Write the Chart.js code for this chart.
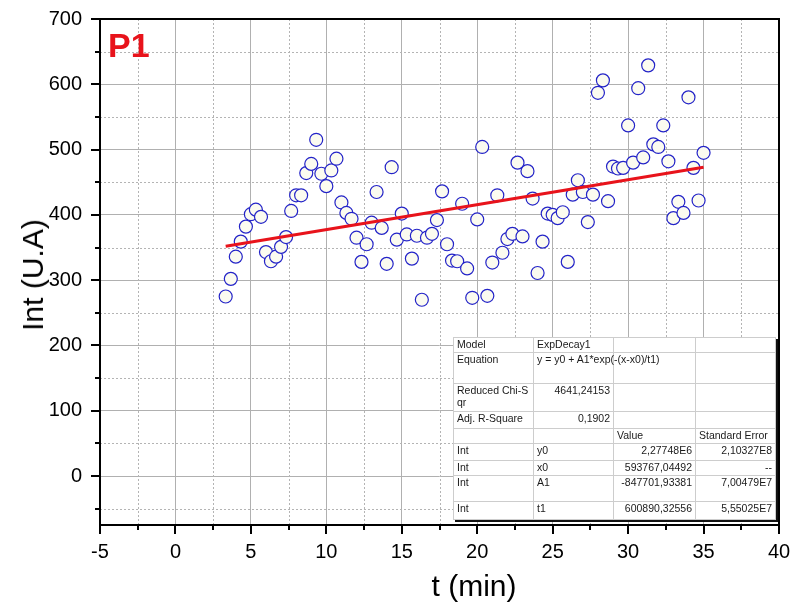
<!DOCTYPE html>
<html>
<head>
<meta charset="utf-8">
<script src="https://cdn.jsdelivr.net/npm/chart.js@4.4.1/dist/chart.umd.min.js"></script>
<style>
  html, body { margin: 0; padding: 0; background: #fff; }
  #wrap { position: relative; width: 791px; height: 610px; font-family: "Liberation Sans", Arial, sans-serif; }
  #plot { position: absolute; left: 0; top: 0; }
  #tag { position: absolute; left: 108px; top: 25px; font-weight: bold; font-size: 34px; color: #e8131b; line-height: 40px; }
  #ytitle { position: absolute; left: 33px; top: 275px; font-size: 30px; color: #000; white-space: nowrap;
            transform: translate(-50%, -50%) rotate(-90deg); }
  #xtitle { position: absolute; left: 474px; top: 586px; font-size: 30px; color: #000; white-space: nowrap;
            transform: translate(-50%, -50%); }
  #fit { position: absolute; left: 453px; top: 337px; width: 322px; table-layout: fixed; border-collapse: collapse;
         background: #fff; font-size: 10.5px; color: #1a1a1a; box-shadow: 2px 2px 0 #111; }
  #fit td { border: 1px solid #cdcdcd; padding: 0 3px; vertical-align: top; line-height: 12px; white-space: nowrap; overflow: visible; }
  #fit td.num { text-align: right; }
</style>
</head>
<body>
<div id="wrap">
  <canvas id="plot" width="791" height="610"></canvas>
  <div id="tag">P1</div>
  <div id="ytitle">Int (U.A)</div>
  <div id="xtitle">t (min)</div>
  <table id="fit">
    <colgroup><col style="width:80px"><col style="width:80px"><col style="width:82px"><col style="width:80px"></colgroup>
    <tbody id="fitBody"></tbody>
  </table>
</div>
<script>
// measured points
const timeMin = [
  3.33, 3.67, 4.00, 4.33, 4.67, 5.00, 5.33, 5.67, 6.00, 6.33, 6.67, 7.00,
  7.33, 7.67, 8.00, 8.33, 8.67, 9.00, 9.33, 9.67, 10.00, 10.33, 10.67, 11.00,
  11.33, 11.67, 12.00, 12.33, 12.67, 13.00, 13.33, 13.67, 14.00, 14.33, 14.67, 15.00,
  15.33, 15.67, 16.00, 16.33, 16.67, 17.00, 17.33, 17.67, 18.00, 18.33, 18.67, 19.00,
  19.33, 19.67, 20.00, 20.33, 20.67, 21.00, 21.33, 21.67, 22.00, 22.33, 22.67, 23.00,
  23.33, 23.67, 24.00, 24.33, 24.67, 25.00, 25.33, 25.67, 26.00, 26.33, 26.67, 27.00,
  27.33, 27.67, 28.00, 28.33, 28.67, 29.00, 29.33, 29.67, 30.00, 30.33, 30.67, 31.00,
  31.33, 31.67, 32.00, 32.33, 32.67, 33.00, 33.33, 33.67, 34.00, 34.33, 34.67, 35.00
];
const intensity = [
  275, 302, 336, 359, 382, 401, 408, 397, 343, 329, 336, 351,
  366, 406, 430, 430, 464, 478, 515, 463, 444, 468, 486, 419,
  403, 394, 365, 328, 355, 388, 435, 380, 325, 473, 362, 402,
  370, 333, 368, 270, 365, 371, 392, 436, 355, 330, 329, 417,
  318, 273, 393, 504, 276, 327, 430, 342, 363, 371, 480, 367,
  467, 425, 311, 359, 402, 400, 395, 404, 328, 431, 453, 435,
  389, 431, 587, 606, 421, 474, 471, 472, 537, 480, 594, 488,
  629, 508, 504, 537, 482, 395, 420, 403, 580, 472, 422, 495
];

// ExpDecay1 fit (practically a straight line over this range)
const fitTime = [3.33, 35.0];
const fitInt = [352, 473];

// fit report table
const fitLabels = ['Model', 'Equation', 'Reduced Chi-S\nqr', 'Adj. R-Square', '', 'Int', 'Int', 'Int', 'Int'];
const fitParams = ['ExpDecay1', 'y = y0 + A1*exp(-(x-x0)/t1)', '4641,24153', '0,1902', '', 'y0', 'x0', 'A1', 't1'];
const fitValues = ['', '', '', '', 'Value', '2,27748E6', '593767,04492', '-847701,93381', '600890,32556'];
const fitErrors = ['', '', '', '', 'Standard Error', '2,10327E8', '--', '7,00479E7', '5,55025E7'];
const fitRowHeights = [15, 31, 28, 17, 15, 17, 15, 26, 18];

const body = document.getElementById('fitBody');
fitLabels.forEach((lab, i) => {
  const tr = document.createElement('tr');
  tr.style.height = fitRowHeights[i] + 'px';
  const cells = [lab, fitParams[i], fitValues[i], fitErrors[i]];
  cells.forEach((txt, j) => {
    const td = document.createElement('td');
    td.style.height = (fitRowHeights[i] - 1) + 'px';
    txt.split('\n').forEach((part, k) => {
      if (k) td.appendChild(document.createElement('br'));
      td.appendChild(document.createTextNode(part));
    });
    const numeric = (i === 2 || i === 3) && j === 1 || (i >= 5 && j >= 2);
    if (numeric) td.className = 'num';
    tr.appendChild(td);
  });
  body.appendChild(tr);
});

// dotted minor grid, ticks and the frame
const framePlugin = {
  id: 'frame',
  beforeDatasetsDraw(chart) {
    const { ctx, chartArea: a, scales: { x, y } } = chart;
    ctx.save();
    ctx.strokeStyle = '#b4b4b4';
    ctx.lineWidth = 1;
    ctx.setLineDash([2, 2]);
    for (let v = -2.5; v < 40; v += 5) {
      const px = Math.round(x.getPixelForValue(v)) + 0.5;
      ctx.beginPath(); ctx.moveTo(px, a.top); ctx.lineTo(px, a.bottom); ctx.stroke();
    }
    for (let v = -50; v < 700; v += 100) {
      const py = Math.round(y.getPixelForValue(v)) + 0.5;
      ctx.beginPath(); ctx.moveTo(a.left, py); ctx.lineTo(a.right, py); ctx.stroke();
    }
    ctx.restore();
  },
  afterDraw(chart) {
    const { ctx, chartArea: a, scales: { x, y } } = chart;
    ctx.save();
    ctx.strokeStyle = '#000';
    ctx.lineWidth = 2;
    for (let v = -5; v <= 40; v += 2.5) {
      const px = Math.round(x.getPixelForValue(v));
      const len = (v % 5 === 0) ? 9 : 5;
      ctx.beginPath(); ctx.moveTo(px, a.bottom); ctx.lineTo(px, a.bottom + len); ctx.stroke();
    }
    for (let v = -50; v <= 700; v += 50) {
      const py = Math.round(y.getPixelForValue(v));
      const len = (v % 100 === 0) ? 9 : 5;
      ctx.beginPath(); ctx.moveTo(a.left, py); ctx.lineTo(a.left - len, py); ctx.stroke();
    }
    ctx.strokeRect(a.left, a.top, a.right - a.left, a.bottom - a.top);
    ctx.restore();
  }
};

const tickFont = { family: '"Liberation Sans", Arial, sans-serif', size: 20 };

new Chart(document.getElementById('plot'), {
  type: 'scatter',
  data: {
    datasets: [
      {
        type: 'line',
        label: 'ExpDecay1 fit',
        data: fitTime.map((t, i) => ({ x: t, y: fitInt[i] })),
        borderColor: '#e8131b',
        borderWidth: 3,
        pointRadius: 0,
        fill: false,
        order: 0
      },
      {
        label: 'Int',
        data: timeMin.map((t, i) => ({ x: t, y: intensity[i] })),
        pointRadius: 6.5,
        pointBorderWidth: 1.2,
        pointBorderColor: '#2323c8',
        pointBackgroundColor: '#fbfbf0',
        order: 1
      }
    ]
  },
  options: {
    responsive: false,
    animation: false,
    layout: { padding: { top: 19, right: 12, left: 0, bottom: 0 } },
    plugins: {
      legend: { display: false },
      tooltip: { enabled: false }
    },
    scales: {
      x: {
        type: 'linear',
        min: -5,
        max: 40,
        ticks: { stepSize: 5, color: '#000', font: tickFont, padding: 15 },
        grid: { color: '#b0b0b0', lineWidth: 1, drawTicks: false },
        border: { display: false },
        afterFit(scale) {
          scale.height = 85;
          scale.paddingLeft = 0;
          scale.paddingRight = 0;
        }
      },
      y: {
        type: 'linear',
        min: -75,
        max: 700,
        ticks: { stepSize: 100, includeBounds: false, color: '#000', font: tickFont, padding: 18 },
        grid: { color: '#b0b0b0', lineWidth: 1, drawTicks: false },
        border: { display: false },
        afterFit(scale) {
          scale.width = 100;
          scale.paddingTop = 0;
          scale.paddingBottom = 0;
        }
      }
    }
  },
  plugins: [framePlugin]
});
</script>
</body>
</html>
